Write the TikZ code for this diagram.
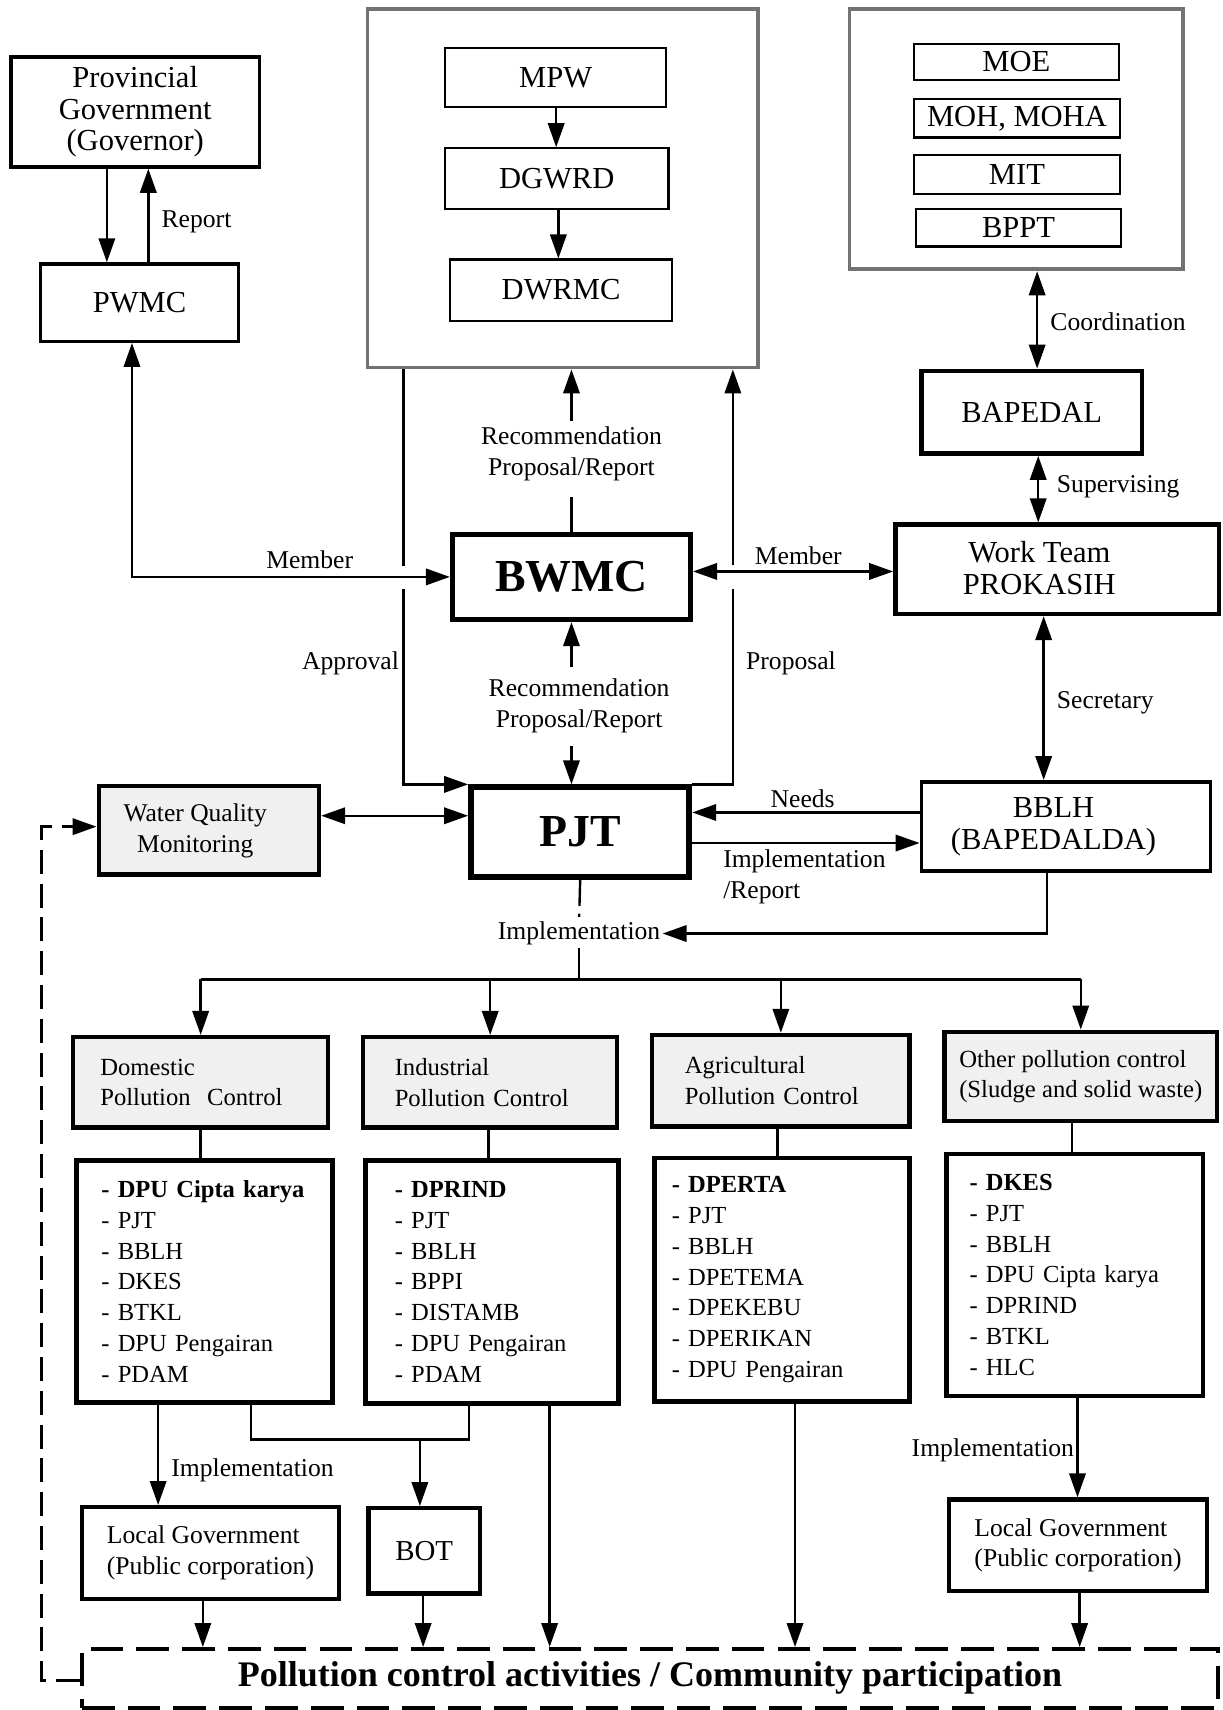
\documentclass[tikz,border=0pt]{standalone}
\usepackage{fontspec}
\setmainfont{Liberation Serif}
\usetikzlibrary{arrows.meta}
\newcommand\fsBox{\fontsize{28}{29}\selectfont}
\newcommand\fsLab{\fontsize{23.5}{28}\selectfont}
\newcommand\fsBig{\fontsize{42}{44}\selectfont\bfseries}
\newcommand\fsCat{\fontsize{22.6}{28}\selectfont}
\newcommand\fsList{\fontsize{22.5}{28.2}\selectfont}
\newcommand\fsPca{\fontsize{33}{36}\selectfont\bfseries}
\begin{document}
\begin{tikzpicture}[x=1pt,y=-1pt,
  bigtip/.tip={Triangle[length=22pt,width=15pt]},
  ln/.style={line width=2.2pt},
  arr/.style={ln,-bigtip},
  arr2/.style={ln,bigtip-bigtip},
  box/.style={draw, line width=3.5pt, inner sep=0pt, align=center, font=\fsBox},
  thinbox/.style={draw, line width=2pt, inner sep=0pt, align=center, font=\fsBox},
  graybox/.style={draw=black!55, line width=3.5pt, inner sep=0pt},
  bigbox/.style={draw, line width=5pt, inner sep=0pt, font=\fsBig},
  catbox/.style={draw, line width=4pt, fill=black!6, inner ysep=0pt, align=left, font=\fsCat},
  listbox/.style={draw, line width=4pt, inner ysep=0pt, align=left, font=\fsList},
  lgbox/.style={draw, line width=4pt, inner sep=0pt, align=left, font=\fsLab},
  lab/.style={font=\fsLab, align=center, inner sep=1pt},
  txt/.style={font=\fsBox, align=center, inner sep=0pt}]
\useasboundingbox (0,0) rectangle (1121,1568);

% ---------- top left
\node[box, minimum width=228, minimum height=101] (prov) at (124,102.5) {Provincial\\Government\\(Governor)};
\node[box, line width=3pt, minimum width=182, minimum height=71] (pwmc) at (128,277.5) {PWMC};

% ---------- top centre
\node[graybox, minimum width=358, minimum height=329] (mpwg) at (516,172.5) {};
\node[thinbox, minimum width=203, minimum height=54] (mpw) at (509.5,71) {MPW};
\node[thinbox, minimum width=205, minimum height=56] (dgwrd) at (510.5,164) {DGWRD};
\node[thinbox, minimum width=203, minimum height=56] (dwrmc) at (514.5,266) {DWRMC};

% ---------- top right
\node[graybox, minimum width=306, minimum height=239] (ming) at (932,127.5) {};
\node[thinbox, minimum width=188, minimum height=33] (moe) at (932,56.5) {MOE};
\node[thinbox, minimum width=189, minimum height=35] (moh) at (932.5,108.5) {MOH, MOHA};
\node[thinbox, minimum width=189, minimum height=36] (mit) at (932.5,160) {MIT};
\node[thinbox, minimum width=188, minimum height=34] (bppt) at (934,209) {BPPT};
\node[box, line width=4pt, minimum width=202, minimum height=76] (bapedal) at (946,378) {BAPEDAL};

% ---------- middle
\node[bigbox, minimum width=218, minimum height=78] (bwmc) at (524,529) {BWMC};
\node[box, line width=4pt, minimum width=297, minimum height=82] (work) at (969.5,522) {};
\node[txt] (workt) at (953,521) {Work Team\\PROKASIH};
\node[box, minimum width=202, minimum height=81, fill=black!6, line width=4pt] (wqm) at (191.5,761.5) {};
\node[lab, font=\fontsize{23.4}{28}\selectfont] (wqmt) at (179,762) {Water Quality\\Monitoring};
\node[bigbox, line width=5.5pt, minimum width=200, minimum height=82] (pjt) at (532,763) {PJT};
\node[box, minimum width=265, minimum height=82] (bblh) at (977.5,758) {};
\node[txt] (bblht) at (966,758) {BBLH\\(BAPEDALDA)};
\node[lab, inner sep=2pt] (impl) at (531,856) {Implementation};

% ---------- categories
\node[catbox, inner xsep=25pt, text width=184pt, minimum height=83] (dom) at (184,992.5) {Domestic\\Pollution\ \ Control};
\node[catbox, inner xsep=29pt, text width=175pt, minimum height=83] (ind) at (449.5,992.5) {Industrial\\Pollution Control};
\node[catbox, inner xsep=30pt, text width=176pt, minimum height=84] (agr) at (716,991) {Agricultural\\Pollution Control};
\node[catbox, inner xsep=0pt, minimum width=250, minimum height=82] (oth) at (991,987) {Other pollution control\\(Sludge and solid waste)};

% ---------- lists
\node[listbox, inner xsep=23pt, text width=189pt, minimum height=222] (doml) at (187.5,1175)
  {{\bfseries - DPU Cipta karya}\\- PJT\\- BBLH\\- DKES\\- BTKL\\- DPU Pengairan\\- PDAM};
\node[listbox, inner xsep=27pt, text width=178pt, minimum height=223] (indl) at (451,1175.5)
  {{\bfseries - DPRIND}\\- PJT\\- BBLH\\- BPPI\\- DISTAMB\\- DPU Pengairan\\- PDAM};
\node[listbox, inner xsep=16pt, text width=202pt, minimum height=223] (agrl) at (717,1173.5)
  {{\bfseries - DPERTA}\\- PJT\\- BBLH\\- DPETEMA\\- DPEKEBU\\- DPERIKAN\\- DPU Pengairan};
\node[listbox, inner xsep=21pt, text width=193pt, minimum height=222] (othl) at (985.5,1169)
  {{\bfseries - DKES}\\- PJT\\- BBLH\\- DPU Cipta karya\\- DPRIND\\- BTKL\\- HLC};

% ---------- bottom boxes
\node[lgbox, minimum width=236, minimum height=84] (lg1) at (193,1424) {Local Government\\(Public corporation)};
\node[box, line width=4pt, minimum width=102, minimum height=78, font=\fontsize{26.5}{28}\selectfont] (bot) at (389,1422) {BOT};
\node[lgbox, minimum width=237, minimum height=84] (lg2) at (988.5,1417) {Local Government\\(Public corporation)};
\node[draw, line width=3.5pt, dash pattern=on 30pt off 12pt, minimum width=1042, minimum height=54, inner sep=0pt, font=\fsPca] (pca) at (596,1539)
  {Pollution control activities / Community participation};

% ---------- connectors: top
\draw[arr] (prov.south -| 98,0) -- (pwmc.north -| 98,0);
\draw[arr] (pwmc.north -| 136,0) -- (prov.south -| 136,0);
\node[lab, anchor=west] (lrep) at (147,203) {Report};
\draw[arr] (mpw.south -| 510,0) -- (dgwrd.north -| 510,0);
\draw[arr] (dgwrd.south -| 512,0) -- (dwrmc.north -| 512,0);

% Member left
\draw[arr2] (pwmc.south -| 121,0) |- (bwmc.west);
\node[lab] (lmem1) at (284,513) {Member};

% Approval
\draw[ln] (mpwg.south -| 370,0) -- (370,519);
\draw[arr] (370,540) |- (pjt.north west);
\node[lab, anchor=east] (lappr) at (367,608) {Approval};

% Proposal
\draw[ln] (pjt.north east) -| (672,540);
\draw[arr] (672,518) -- (mpwg.south -| 672,0);
\node[lab, anchor=west] (lprop) at (683,608) {Proposal};

% BWMC -> ministry box
\draw[ln] (bwmc.north) -- (524,456);
\draw[arr] (524,386) -- (mpwg.south -| 524,0);
\node[lab] (lrec1) at (524,416) {Recommendation\\Proposal/Report};

% BWMC <-> PJT
\draw[arr] (524,612) -- (bwmc.south);
\draw[arr] (524,684) -- (pjt.north -| 524,0);
\node[lab] (lrec2) at (531,647) {Recommendation\\Proposal/Report};

% Member right
\draw[arr2] ([yshift=5pt]bwmc.east) -- (work.west |- 0,524);
\node[lab] (lmem2) at (732,510) {Member};

% right column
\draw[arr2] (ming.south -| 951,0) -- (bapedal.north -| 951,0);
\node[lab, anchor=west] (lcoord) at (962,295) {Coordination};
\draw[arr2] (bapedal.south -| 952,0) -- (work.north -| 952,0);
\node[lab, anchor=west] (lsup) at (968,446) {Supervising};
\draw[arr2] (work.south -| 957,0) -- (bblh.north -| 957,0);
\node[lab, anchor=west] (lsec) at (968,644) {Secretary};

% PJT row
\draw[arr2] (wqm.east |- 0,748) -- (pjt.west |- 0,748);
\draw[arr] (bblh.west |- 0,745) -- (pjt.east |- 0,745);
\node[lab] (lneeds) at (736,732) {Needs};
\draw[arr] (pjt.east |- 0,773) -- (bblh.west |- 0,773);
\node[lab, anchor=west, align=left] (limpr) at (662,804) {Implementation\\/Report};

% implementation distribution
\draw[ln, dash pattern=on 24pt off 7pt on 3pt off 30pt] (pjt.south) -- (impl.north);
\draw[arr] (bblh.south -| 960,0) |- (impl.east);
\draw[ln] (impl.south) -- (531,898);
\draw[ln] (dom.north |- 0,898) -- (oth.north |- 0,898);
\foreach \n in {dom,ind,agr,oth} \draw[arr] (\n.north |- 0,898) -- (\n.north);

% categories -> lists
\draw[ln] (dom.south) -- (dom.south |- doml.north);
\draw[ln] (ind.south -| 448,0) -- (indl.north -| 448,0);
\draw[ln] (agr.south -| 713,0) -- (agrl.north -| 713,0);
\draw[ln] (oth.south -| 983,0) -- (othl.north -| 983,0);

% bottom
\draw[arr] (doml.south -| 145,0) -- (lg1.north -| 145,0);
\node[lab, anchor=west] (limp2) at (156,1348) {Implementation};
\draw[ln] (doml.south -| 230,0) |- (430,1320) -- (indl.south -| 430,0);
\draw[arr] (385,1320) -- (bot.north -| 385,0);
\draw[arr] (indl.south -| 504,0) -- (pca.north -| 504,0);
\draw[arr] (agrl.south -| 729,0) -- (pca.north -| 729,0);
\draw[arr] (othl.south -| 988,0) -- (lg2.north -| 988,0);
\node[lab, anchor=east] (limp3) at (986,1330) {Implementation};
\draw[arr] (lg1.south -| 186,0) -- (pca.north -| 186,0);
\draw[arr] (bot.south -| 388,0) -- (pca.north -| 388,0);
\draw[arr] (lg2.south -| 990,0) -- (pca.north -| 990,0);

% feedback to water quality monitoring
\draw[ln, line width=2.5pt, dash pattern=on 22pt off 9pt, -bigtip] (pca.west |- 0,1541) -| (38,758) -- (wqm.west |- 0,758);
\end{tikzpicture}
\end{document}
